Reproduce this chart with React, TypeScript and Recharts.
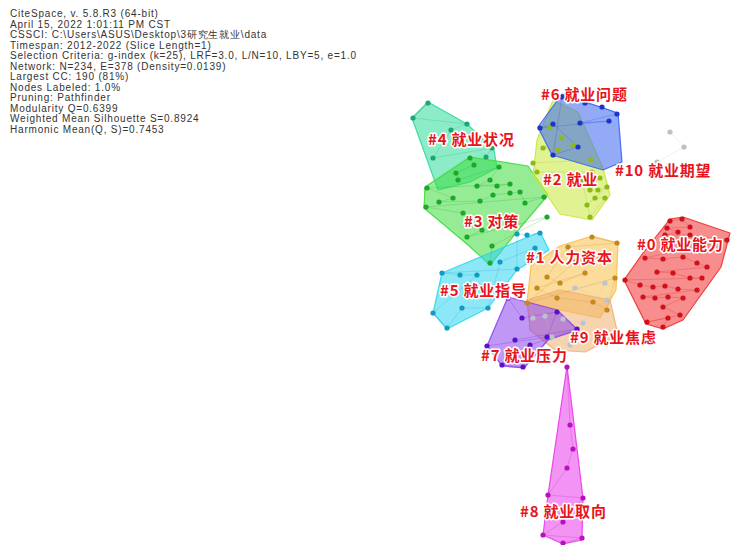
import { ScatterChart, Scatter, XAxis, YAxis } from "recharts"

type Pt = [number, number]

// header lines, as printed by CiteSpace
const HEADER_LINES = [
  "CiteSpace, v. 5.8.R3 (64-bit)",
  "April 15, 2022 1:01:11 PM CST",
  "CSSCI: C:\\Users\\ASUS\\Desktop\\3研究生就业\\data",
  "Timespan: 2012-2022 (Slice Length=1)",
  "Selection Criteria: g-index (k=25), LRF=3.0, L/N=10, LBY=5, e=1.0",
  "Network: N=234, E=378 (Density=0.0139)",
  "Largest CC: 190 (81%)",
  "Nodes Labeled: 1.0%",
  "Pruning: Pathfinder",
  "Modularity Q=0.6399",
  "Weighted Mean Silhouette S=0.8924",
  "Harmonic Mean(Q, S)=0.7453",
]

// cluster hulls and node layout (layout coordinates)
const hull0: Pt[] = [[670, 219], [683, 217], [730, 233], [721, 267], [683, 320], [663, 329], [646, 324], [624, 280], [643, 253]]
const nodes0: Pt[] = [
  [670, 221], [682, 219], [690, 227], [667, 228], [678, 232], [665, 235], [690, 235], [727, 240],
  [645, 258], [663, 259], [683, 257], [697, 263], [707, 267], [657, 272], [673, 273], [690, 278],
  [702, 278], [625, 280], [640, 285], [653, 287], [665, 286], [678, 289], [697, 290], [643, 297],
  [655, 298], [668, 297], [683, 298], [663, 307], [680, 315], [647, 322], [668, 318], [663, 327],
]
const hull1: Pt[] = [[592, 236], [618, 243], [616, 290], [600, 318], [560, 310], [527, 302], [531, 266], [560, 246]]
const nodes1: Pt[] = [
  [592, 237], [617, 243], [568, 247], [547, 277], [560, 283], [585, 273], [537, 288], [557, 298],
  [593, 302], [607, 310], [615, 278], [527, 303], [575, 262], [600, 258],
]
const hull2: Pt[] = [[553, 100], [578, 112], [603, 168], [610, 195], [592, 220], [560, 214], [533, 175], [537, 140]]
const nodes2: Pt[] = [
  [550, 127], [562, 138], [543, 148], [558, 150], [573, 145], [591, 160], [533, 163], [537, 172],
  [592, 172], [600, 178], [590, 190], [598, 190], [607, 187], [587, 205], [595, 198], [605, 198],
  [590, 217], [582, 180],
]
const hull3: Pt[] = [[470, 157], [528, 166], [548, 195], [520, 228], [490, 265], [468, 245], [424, 208], [425, 187]]
const nodes3: Pt[] = [
  [470, 158], [474, 165], [456, 173], [458, 180], [499, 167], [490, 180], [477, 186], [497, 186],
  [510, 184], [427, 188], [453, 198], [439, 202], [480, 201], [493, 195], [510, 193], [520, 192],
  [525, 203], [544, 197], [426, 207], [463, 213], [482, 230], [467, 237], [547, 217], [492, 246],
  [490, 263],
]
const hull4: Pt[] = [[428, 102], [467, 124], [494, 150], [497, 168], [470, 182], [438, 190], [412, 118]]
const nodes4: Pt[] = [[428, 103], [413, 118], [467, 124], [451, 130], [433, 158], [492, 148], [486, 157]]
const hull5: Pt[] = [[540, 232], [549, 250], [517, 270], [488, 308], [447, 329], [433, 313], [442, 273]]
const nodes5: Pt[] = [
  [540, 233], [527, 235], [517, 234], [517, 269], [442, 273], [460, 275], [477, 275], [433, 313],
  [447, 328], [462, 308], [488, 308], [500, 262], [535, 248],
]
const hull6: Pt[] = [[562, 94], [618, 113], [622, 162], [603, 170], [552, 155], [538, 127]]
const nodes6: Pt[] = [[585, 103], [602, 107], [617, 114], [580, 123], [609, 121], [540, 128], [553, 124], [578, 147], [553, 155], [562, 97]]
const hull7: Pt[] = [[508, 297], [557, 310], [578, 330], [548, 340], [524, 368], [502, 366], [487, 346]]
const nodes7: Pt[] = [[508, 298], [522, 318], [557, 312], [547, 337], [487, 346], [502, 365], [523, 367], [530, 345], [577, 329], [515, 340]]
const hull8: Pt[] = [[567, 366], [583, 498], [582, 540], [563, 544], [543, 535], [548, 495]]
const nodes8: Pt[] = [[567, 367], [570, 425], [573, 449], [567, 468], [548, 495], [583, 498], [563, 522], [543, 535], [582, 538], [563, 543]]
const hull9: Pt[] = [[527, 300], [560, 290], [610, 300], [618, 335], [585, 352], [555, 350], [530, 330]]
const nodes9: Pt[] = [[533, 318], [545, 316], [552, 337], [570, 345], [605, 283], [575, 288], [607, 300], [583, 323], [563, 319]]
const nodes10: Pt[] = [[670, 132], [684, 147], [657, 162]]

const LABEL_IDS = ["#6", "#4", "#2", "#10", "#3", "#0", "#1", "#5", "#9", "#7", "#8"]
const LABEL_TEXTS = ["就业问题", "就业状况", "就业", "就业期望", "对策", "就业能力", "人力资本", "就业指导", "就业焦虑", "就业压力", "就业取向"]
const LABEL_POS: Pt[] = [[541, 95], [428, 140], [543, 180], [615, 171], [464, 222], [637, 245], [526, 258], [440, 291], [570, 338], [481, 356], [520, 512]]

const CLUSTERS = [
  { hull: hull4, nodes: nodes4, fill: "#2fdc9a", dot: "#1aa870" },
  { hull: hull3, nodes: nodes3, fill: "#3edc3e", dot: "#1ea82a" },
  { hull: hull5, nodes: nodes5, fill: "#2ed6ee", dot: "#0f9cc0" },
  { hull: hull2, nodes: nodes2, fill: "#c8e83a", dot: "#8cba18" },
  { hull: hull6, nodes: nodes6, fill: "#3a66ee", dot: "#1a36c8" },
  { hull: hull1, nodes: nodes1, fill: "#f8c048", dot: "#c4881c" },
  { hull: hull9, nodes: nodes9, fill: "#f0b070", dot: "#b8c4d4" },
  { hull: hull7, nodes: nodes7, fill: "#8a44ee", dot: "#5a10c8" },
  { hull: hull0, nodes: nodes0, fill: "#f03030", dot: "#d0101a" },
  { hull: hull8, nodes: nodes8, fill: "#ea3aea", dot: "#b810c0" },
  { hull: [] as Pt[], nodes: nodes10, fill: "#c8c8c8", dot: "#c0c0c0" },
]

const toXY = (pts: Pt[]) => pts.map(([x, y]) => ({ x, y }))
const ptsAttr = (points: any[]) => points.map((q) => `${q.x},${q.y}`).join(" ")

const labelData = LABEL_IDS.map((id, i) => ({ x: LABEL_POS[i][0], y: LABEL_POS[i][1], text: `${id} ${LABEL_TEXTS[i]}` }))

export default function App() {
  return (
    <div style={{ position: "fixed", left: 0, top: 0, width: 731, height: 545, background: "#fff" }}>
      <div
        style={{
          position: "absolute",
          left: 10,
          top: 9,
          fontFamily: "'Liberation Sans', Arial, sans-serif",
          fontSize: 10,
          lineHeight: "10.5px",
          letterSpacing: 0.8,
          color: "#333",
          whiteSpace: "pre",
        }}
      >
        {HEADER_LINES.map((l) => (
          <div key={l}>{l}</div>
        ))}
      </div>
      <ScatterChart width={731} height={545} margin={{ top: 0, right: 0, bottom: 0, left: 0 }} style={{ position: "absolute", left: 0, top: 0 }}>
        <XAxis type="number" dataKey="x" domain={[0, 731]} hide />
        <YAxis type="number" dataKey="y" domain={[0, 545]} reversed hide />
        {CLUSTERS.filter((c) => c.hull.length > 0).map((c, i) => (
          <Scatter
            key={`hull-${i}`}
            data={toXY(c.hull)}
            isAnimationActive={false}
            shape={() => <g />}
            line={(p: any) => (
              <polygon
                points={ptsAttr(p.points)}
                fill={c.fill}
                fillOpacity={0.55}
                stroke={c.fill}
                strokeOpacity={0.9}
                strokeWidth={1.2}
                strokeLinejoin="round"
              />
            )}
          />
        ))}
        {CLUSTERS.map((c, i) => (
          <Scatter
            key={`edges-${i}`}
            data={toXY(c.nodes)}
            isAnimationActive={false}
            shape={() => <g />}
            line={(p: any) => (
              <polyline points={ptsAttr(p.points)} fill="none" stroke={c.dot} strokeOpacity={0.22} strokeWidth={1} />
            )}
          />
        ))}
        {CLUSTERS.map((c, i) => (
          <Scatter
            key={`nodes-${i}`}
            data={toXY(c.nodes)}
            isAnimationActive={false}
            shape={(p: any) => <circle cx={p.cx} cy={p.cy} r={2.6} fill={c.dot} />}
          />
        ))}
        <Scatter
          data={labelData}
          isAnimationActive={false}
          shape={(p: any) => (
            <text
              x={p.cx}
              y={p.cy}
              dy="0.35em"
              fontFamily="'Noto Sans CJK SC', sans-serif"
              fontWeight={700}
              fontSize={15}
              letterSpacing={0.8}
              fill="#e8141c"
              stroke="#fff"
              strokeWidth={3}
              strokeLinejoin="round"
              paintOrder="stroke"
            >
              {p.payload.text}
            </text>
          )}
        />
      </ScatterChart>
    </div>
  )
}
